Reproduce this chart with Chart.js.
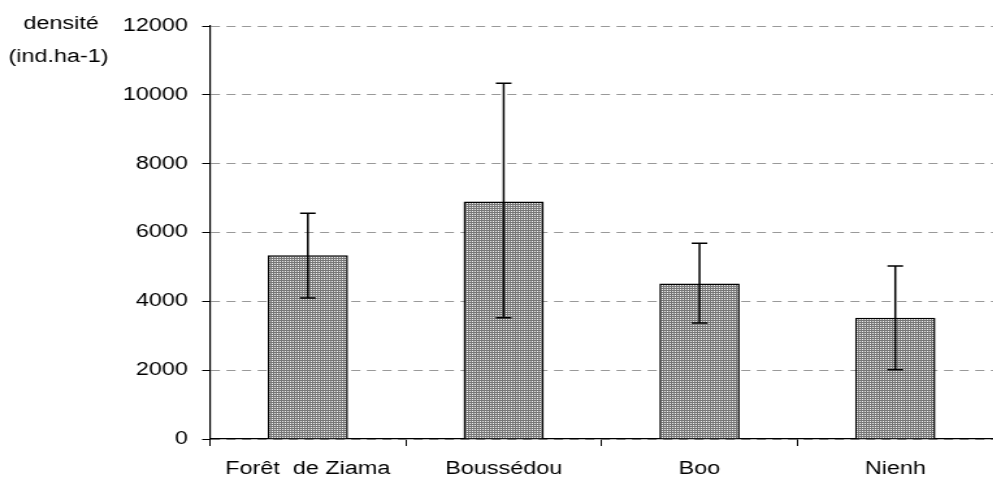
<!DOCTYPE html>
<html>
<head>
<meta charset="utf-8">
<script src="https://cdn.jsdelivr.net/npm/chart.js@4.4.1/dist/chart.umd.min.js"></script>
<style>
  html, body { margin: 0; padding: 0; background: #fff; overflow: hidden; }
  /* the original picture is stretched sideways, so draw narrow and scale */
  #wrap { width: 764px; height: 484px; transform: scaleX(1.3); transform-origin: 0 0; }
</style>
</head>
<body>
<div id="wrap"><canvas id="myChart" width="764" height="484"></canvas></div>
<script>
const sites = ['Forêt  de Ziama', 'Boussédou', 'Boo', 'Nienh'];
const densite = [5340, 6900, 4520, 3520];
const errHigh = [6560, 10340, 5690, 5030];
const errLow = [4100, 3520, 3370, 2010];
const yTicks = [0, 2000, 4000, 6000, 8000, 10000, 12000];

const ctx = document.getElementById('myChart').getContext('2d');

// grey checkered fill like the old spreadsheet pattern
function makePattern() {
    const p = document.createElement('canvas');
    p.width = 2; p.height = 2;
    const pc = p.getContext('2d');
    pc.fillStyle = '#767676';
    pc.fillRect(0, 0, 2, 2);
    pc.fillStyle = '#f4f4f4';
    pc.fillRect(1, 1, 1, 1);
    return ctx.createPattern(p, 'repeat');
}

const errorBars = {
    id: 'errorBars',
    afterDatasetsDraw(chart) {
        const c = chart.ctx;
        const x = chart.scales.x, y = chart.scales.y;
        c.save();
        c.strokeStyle = '#000';
        c.lineWidth = 1.5;
        sites.forEach((s, i) => {
            const px = x.getPixelForValue(i);
            const top = y.getPixelForValue(errHigh[i]);
            const bot = y.getPixelForValue(errLow[i]);
            c.beginPath();
            c.moveTo(px, top); c.lineTo(px, bot);
            c.moveTo(px - 6, top); c.lineTo(px + 6, top);
            c.moveTo(px - 6, bot); c.lineTo(px + 6, bot);
            c.stroke();
        });
        c.restore();
    }
};

const axisTitle = {
    id: 'axisTitle',
    afterDraw(chart) {
        const c = chart.ctx;
        c.save();
        c.fillStyle = '#000';
        c.font = '18px "Liberation Sans", Arial, sans-serif';
        c.textAlign = 'center';
        c.textBaseline = 'middle';
        c.fillText('densité', 47, 24);
        c.fillText('(ind.ha-1)', 45, 57);
        c.restore();
    }
};

const chart = new Chart(ctx, {
    type: 'bar',
    data: {
        labels: sites,
        datasets: [{
            data: densite,
            backgroundColor: makePattern(),
            borderColor: '#000',
            borderWidth: 1.5,
            borderSkipped: 'bottom',
            categoryPercentage: 1,
            barPercentage: 0.41
        }]
    },
    options: {
        responsive: false,
        animation: false,
        layout: { padding: { top: 26, right: -4, left: 0, bottom: 0 } },
        plugins: { legend: { display: false }, tooltip: { enabled: false } },
        scales: {
            x: {
                offset: true,
                grid: { offset: true, drawOnChartArea: false, tickLength: 7, tickColor: '#000', lineWidth: 1 },
                border: { color: '#000', width: 1.2 },
                ticks: { color: '#000', padding: 12, font: { family: '"Liberation Sans", Arial', size: 18 } },
                afterFit(scale) { scale.height = 45; }
            },
            y: {
                min: 0,
                max: 12000,
                afterBuildTicks(scale) { scale.ticks = yTicks.map(v => ({ value: v })); },
                grid: { color: '#999', tickBorderDash: [], tickColor: '#000', tickLength: 6, lineWidth: 1 },
                border: { color: '#000', width: 1.2, dash: [7, 5] },
                ticks: {
                    color: '#000', padding: 11,
                    font: { family: '"Liberation Sans", Arial', size: 18 },
                    callback: v => String(v)
                },
                afterFit(scale) { scale.width = 161.5; }
            }
        }
    },
    plugins: [errorBars, axisTitle]
});
</script>
</body>
</html>
